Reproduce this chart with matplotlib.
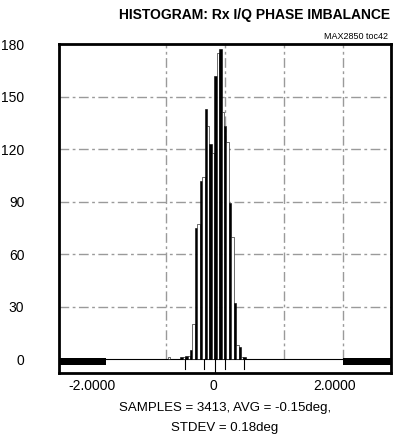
import numpy as np
import matplotlib.pyplot as plt

plt.rcParams['font.family'] = ['Liberation Sans', 'DejaVu Sans']

# Histogram data (phase imbalance, deg)
bin_w = 0.04
bin_centers = np.round(np.arange(-0.76, 0.53, bin_w), 2)
counts = [0, 1, 0, 0, 0, 0, 1, 1, 2, 2, 5, 20, 75, 77, 102, 104, 143, 133,
          123, 118, 162, 175, 177, 141, 133, 124, 89, 70, 32, 8, 7, 1, 1]

# empty outer bins drawn as thick bars at zero
empty_left = (-2.535, -1.76)
empty_right = (2.14, 2.93)

# vertical grid positions and statistic markers
vgrid = [-0.774, 0.198, 1.169, 2.140]
markers = [-0.461, -0.148, 0.198, 0.510]
center_marker = 0.033

yticks = [0, 30, 60, 90, 120, 150, 180]
xticks = [-2, 0, 2]
xticklabels = ['-2.0000', '0', '2.0000']

fig = plt.figure(figsize=(4.02, 4.47), dpi=100)
ax = fig.add_axes([0.1468, 0.1655, 0.8259, 0.7360])

gstyle = dict(color='#9a9a9a', lw=1.0, ls=(0, (7, 2.5, 2, 2.5)), zorder=1)
for y in yticks[1:-1]:
    ax.axhline(y, **gstyle)
for x in vgrid:
    ax.plot([x, x], [0, 180], **gstyle)

colors = ['black' if i % 2 == 0 else 'white' for i in range(len(counts))]
ax.bar(bin_centers, counts, width=bin_w, color=colors, edgecolor='black',
       linewidth=0.4, zorder=3)

ax.axhline(0, color='black', lw=0.8, zorder=2)
ax.fill_between(empty_left, -3.2, 0.4, color='black', lw=0, zorder=4)
ax.fill_between(empty_right, -3.2, 0.4, color='black', lw=0, zorder=4)

for m in markers:
    ax.plot([m, m], [0, -5.8], color='black', lw=0.8, zorder=4)
ax.plot([center_marker, center_marker], [0, -8], color='black', lw=0.8, zorder=4)

ax.set_xlim(-2.535, 2.93)
ax.set_ylim(-8, 180)
ax.set_yticks(yticks)
ax.set_xticks(xticks)
ax.set_xticklabels(xticklabels)
ax.tick_params(axis='y', length=0, pad=25, labelsize=10)
ax.tick_params(axis='x', length=0, pad=4, labelsize=10)
for s in ax.spines.values():
    s.set_linewidth(2.0)

fig.text(0.632, 0.966, 'HISTOGRAM: Rx I/Q PHASE IMBALANCE', ha='center',
         va='center', fontsize=10, fontweight='bold')
fig.text(0.965, 0.919, 'MAX2850 toc42', ha='right', va='center', fontsize=6.5)
fig.text(0.56, 0.087, 'SAMPLES = 3413, AVG = -0.15deg,', ha='center',
         va='center', fontsize=9.5)
fig.text(0.56, 0.042, 'STDEV = 0.18deg', ha='center', va='center', fontsize=9.5)

fig.savefig('out.png', dpi=100)
